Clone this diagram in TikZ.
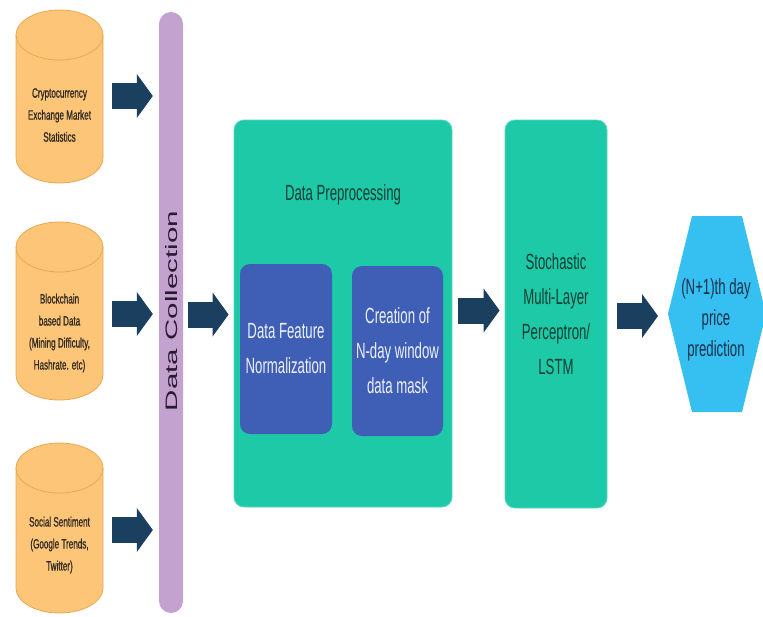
\documentclass[tikz,border=0pt]{standalone}
\usepackage{fontspec}
\setmainfont{Liberation Sans}
\newfontfamily\nf[FakeStretch=0.6]{Liberation Sans}
\newfontfamily\nfb[FakeStretch=0.6,FakeBold=0.8]{Liberation Sans}
\usetikzlibrary{arrows.meta,calc}
\definecolor{cylfill}{HTML}{FCC578}
\definecolor{cyledge}{HTML}{E9A850}
\definecolor{cyltxt}{HTML}{2E2820}
\definecolor{lilac}{HTML}{C4A2D0}
\definecolor{dctxt}{HTML}{2A1A30}
\definecolor{teal}{HTML}{1EC9A7}
\definecolor{tealedge}{HTML}{55D8C0}
\definecolor{tealtxt}{HTML}{103E34}
\definecolor{blueb}{HTML}{3F5EB5}
\definecolor{bluetxt}{HTML}{EEF2FA}
\definecolor{navy}{HTML}{1B3F5F}
\definecolor{hexfill}{HTML}{36C0F1}
\definecolor{hextxt}{HTML}{18304C}
\newcommand\drawcyl[2]{%
  \filldraw[fill=cylfill,draw=cyledge,line width=0.8pt]
    (16,-#1) -- (16,-#2) arc[start angle=180,end angle=360,x radius=43.5,y radius=25]
    -- (103,-#1) arc[start angle=0,end angle=180,x radius=43.5,y radius=25] -- cycle;
  \draw[draw=cyledge,line width=0.8pt]
    (16,-#1) arc[start angle=180,end angle=360,x radius=43.5,y radius=25];}
\tikzset{
  cylbox/.style={minimum width=87pt,minimum height=20pt,inner sep=0pt},
  cyltext/.style={align=center,text=cyltxt,font=\nfb\fontsize{13.5}{22}\selectfont,inner sep=0pt},
  barbox/.style={fill=lilac,rounded corners=12pt,minimum width=24pt,minimum height=601pt,inner sep=0pt},
  tealbox/.style={fill=teal,draw=tealedge,line width=0.8pt,rounded corners=10pt,inner sep=0pt,
    align=center,text=tealtxt,font=\nf\fontsize{22}{35}\selectfont},
  bluebox/.style={fill=blueb,rounded corners=10pt,inner sep=0pt,minimum width=92pt,minimum height=170pt,
    align=center,text=bluetxt,font=\nf\fontsize{22}{35}\selectfont},
  bigtext/.style={align=center,text=tealtxt,font=\nf\fontsize{22}{35}\selectfont,inner sep=0pt},
  hextext/.style={align=center,text=hextxt,font=\nf\fontsize{22}{31}\selectfont,inner sep=0pt},
  barrow/.style={draw=navy,line width=26pt,-{Triangle[length=16pt,width=44pt,line width=0pt]}}
}
\begin{document}
\begin{tikzpicture}[x=1pt,y=1pt]
\useasboundingbox (0,0) rectangle (763,-616);
\fill[white] (0,0) rectangle (763,-616);
% cylinders
\drawcyl{35}{158}
\drawcyl{247}{375}
\drawcyl{468}{588}
\node[cylbox] (c1) at (59.5,-96) {};
\node[cylbox] (c2) at (59.5,-314) {};
\node[cylbox] (c3) at (59.5,-530) {};
\node[cyltext] (t1) at (59.5,-115) {Cryptocurrency\\Exchange Market\\Statistics};
\node[cyltext] (t2) at (59.5,-333) {Blockchain\\based Data\\(Mining Difficulty,\\Hashrate. etc)};
\node[cyltext] (t3) at (59.5,-545) {Social Sentiment\\(Google Trends,\\Twitter)};
% data collection bar
\node[barbox] (bar) at (171,-312.5) {};
\node[inner sep=0pt,text=dctxt] (dc) at (171.5,-311) {\rotatebox{90}{\resizebox{200pt}{12pt}{Data Collection}}};
% preprocessing
\node[tealbox,minimum width=218pt,minimum height=387pt] (pre) at (343,-313.5) {};
\node[bigtext] (title) at (343,-195) {Data Preprocessing};
\node[bluebox] (norm) at (286,-349) {Data Feature\\Normalization};
\node[bluebox,minimum width=91pt] (mask) at (397.5,-351) {Creation of\\N-day window\\data mask};
% model
\node[tealbox,minimum width=102pt,minimum height=388pt] (mlp) at (556,-314) {Stochastic\\Multi-Layer\\Perceptron/\\LSTM};
% hexagon
\fill[hexfill] (668,-314) -- (692,-216) -- (742,-216) -- (766,-314) -- (742,-412) -- (692,-412) -- cycle;
\coordinate (hexw) at (668,-314);
\node[hextext] (hex) at (716,-320) {(N+1)th day\\price\\prediction};
% arrows
\draw[barrow] ($(c1.east)+(9,0)$) -- ($(bar.west |- c1.east)+(-6,0)$);
\draw[barrow] ($(c2.east)+(9,0)$) -- ($(bar.west |- c2.east)+(-6,0)$);
\draw[barrow] ($(c3.east)+(9,0)$) -- ($(bar.west |- c3.east)+(-6,0)$);
\draw[barrow] ($(bar.east |- pre.west)+(5,-1)$) -- ($(pre.west)+(-5,-1)$);
\draw[barrow] ($(pre.east)+(6,3)$) -- ($(mlp.west |- pre.east)+(-5,3)$);
\draw[barrow] ($(mlp.east)+(10,-2)$) -- ($(hexw)+(-10,-2)$);
\end{tikzpicture}
\end{document}
